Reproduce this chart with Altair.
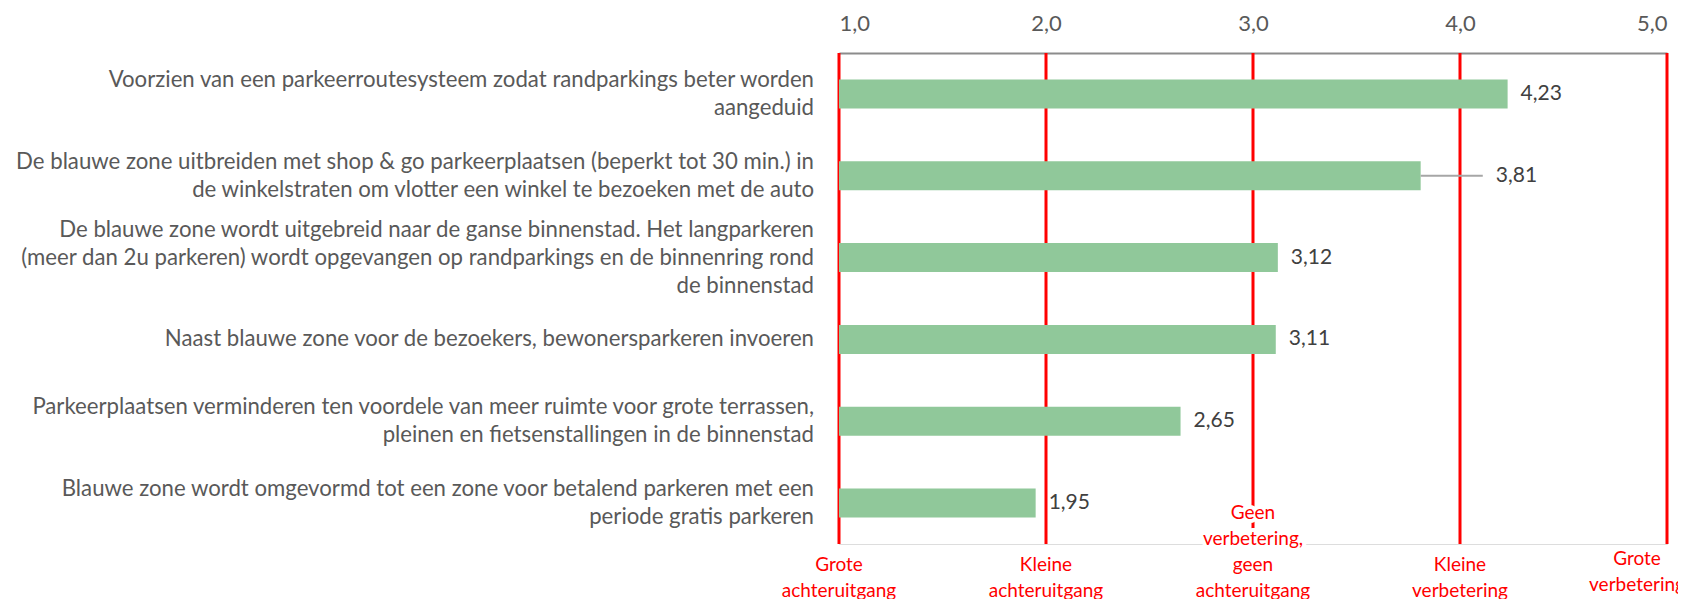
import altair as alt
import pandas as pd

categories = [
    "Voorzien van een parkeerroutesysteem zodat randparkings beter worden\naangeduid",
    "De blauwe zone uitbreiden met shop & go parkeerplaatsen (beperkt tot 30 min.) in\nde winkelstraten om vlotter een winkel te bezoeken met de auto",
    "De blauwe zone wordt uitgebreid naar de ganse binnenstad. Het langparkeren\n(meer dan 2u parkeren) wordt opgevangen op randparkings en de binnenring rond\nde binnenstad",
    "Naast blauwe zone voor de bezoekers, bewonersparkeren invoeren",
    "Parkeerplaatsen verminderen ten voordele van meer ruimte voor grote terrassen,\npleinen en fietsenstallingen in de binnenstad",
    "Blauwe zone wordt omgevormd tot een zone voor betalend parkeren met een\nperiode gratis parkeren",
]
values = [4.23, 3.81, 3.12, 3.11, 2.65, 1.95]
error_plus = [0.0, 0.30, 0.0, 0.0, 0.0, 0.0]

scale_levels = [1, 2, 3, 4, 5]
scale_labels = [
    ["Grote", "achteruitgang"],
    ["Kleine", "achteruitgang"],
    ["Geen", "verbetering,", "geen", "achteruitgang"],
    ["Kleine", "verbetering"],
    ["Grote", "verbetering"],
]

FONT = "Lato"
W, H = 828, 491
CAT_LH = 28
LVL_LH = 26

df = pd.DataFrame({"category": categories, "value": values, "err": error_plus})
df["lines"] = [c.split("\n") for c in categories]
df["n"] = [len(c.split("\n")) for c in categories]
levels_df = pd.DataFrame({"level": scale_levels, "text": scale_labels})
levels_df["n"] = [len(t) for t in scale_labels]
LAST = max(scale_levels)

xscale = alt.Scale(domain=[1, 5], nice=False, zero=False, clamp=True)
ycat = alt.Y("category:N", sort=categories, axis=None)

base = alt.Chart(df)

bars = base.mark_bar(color="#90C89A", size=29).encode(
    x=alt.X(
        "value:Q",
        scale=xscale,
        axis=alt.Axis(
            orient="top",
            values=scale_levels,
            title=None,
            grid=False,
            ticks=False,
            domainColor="#8C8C8C",
            domainWidth=2,
            labelExpr="replace(format(datum.value, '.1f'), '.', ',')",
            labelFont=FONT,
            labelFontSize=22,
            labelColor="#595959",
            labelPadding=18,
        ),
    ),
    y=ycat,
)

errs = base.transform_filter("datum.err > 0").transform_calculate(
    hi="datum.value + datum.err"
).mark_rule(color="#A6A6A6", strokeWidth=2).encode(
    x=alt.X("value:Q", scale=xscale),
    x2="hi:Q",
    y=ycat,
)

rules = alt.Chart(levels_df).mark_rule(color="#FF0000", strokeWidth=3).encode(
    x=alt.X("level:Q", scale=xscale)
)

value_labels = base.transform_calculate(
    pos="max(datum.value, datum.value + datum.err)",
    lab="replace(format(datum.value, '.2f'), '.', ',')",
).mark_text(
    align="left", baseline="middle", dx=13, font=FONT, fontSize=21, color="#404040"
).encode(
    x=alt.X("pos:Q", scale=xscale),
    y=ycat,
    text="lab:N",
)

# category labels (left), multi-line blocks centred on each bar
cat_layers = []
for k in sorted(set(df["n"])):
    cat_layers.append(
        base.transform_filter(f"datum.n == {k}").mark_text(
            align="right", baseline="middle", font=FONT, fontSize=22.2,
            lineHeight=CAT_LH, color="#595959", dy=-(k - 1) * CAT_LH / 2,
        ).encode(
            x=alt.value(-25),
            y=ycat,
            text="lines",
        )
    )

# red scale labels under the plot, bottom-aligned (last one nudged inside the page)
lvl_layers = []
groups = []
for k in sorted(set(levels_df["n"])):
    groups.append((f"datum.n == {k} && datum.level != {LAST}", k, 0, 0))
groups.append((f"datum.level == {LAST}", 2, -30, -6))
for test, k, ddx, ddy in groups:
    sub = alt.Chart(levels_df).transform_filter(test)
    for halo in (True, False):
        props = dict(
            align="center", baseline="alphabetic", font=FONT, fontSize=19,
            lineHeight=LVL_LH, dy=-(k - 1) * LVL_LH + ddy, dx=ddx,
        )
        if halo:
            props.update(color="white", stroke="white", strokeWidth=8)
        else:
            props.update(color="#FF0000")
        lvl_layers.append(
            sub.mark_text(**props).encode(
                x=alt.X("level:Q", scale=xscale),
                y=alt.value(H + 53),
                text="text",
            )
        )

chart = alt.layer(rules, bars, errs, value_labels, *cat_layers, *lvl_layers).properties(
    width=W,
    height=H,
    autosize=alt.AutoSizeParams(type="none"),
    padding={"left": 831, "top": 45, "right": 11, "bottom": 55},
).configure_view(stroke=None).configure(background="white")

chart.save("out.html", embed_options={"renderer": "svg", "actions": False})
